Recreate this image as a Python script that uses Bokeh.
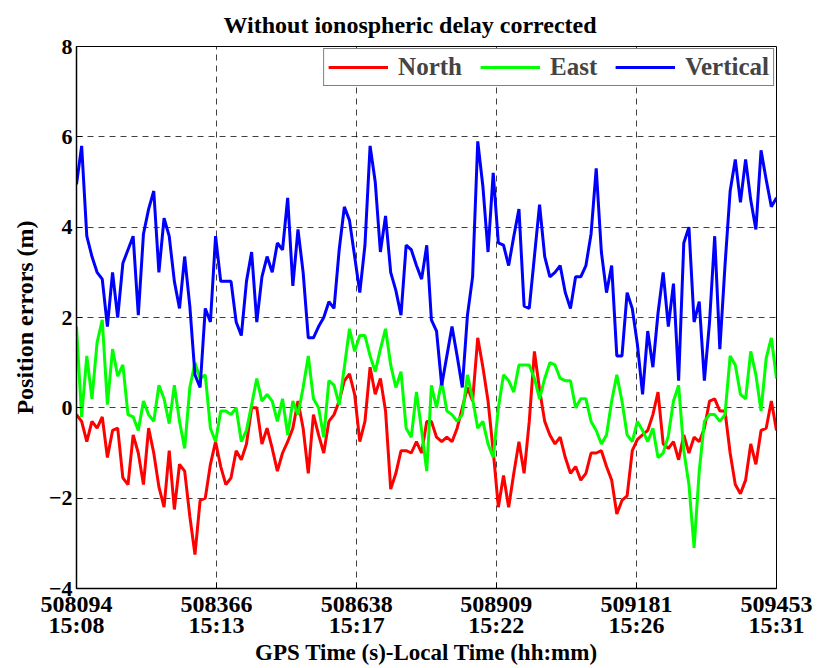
from bokeh.plotting import figure
from bokeh.models import FixedTicker, Range1d, Legend, LegendItem, LinearAxis
from bokeh.embed import file_html
from bokeh.resources import INLINE

# GPS time ticks and local time labels
x_ticks = [508094, 508366, 508638, 508909, 509181, 509453]
gps_labels = ["508094", "508366", "508638", "508909", "509181", "509453"]
local_labels = ["15:08", "15:13", "15:17", "15:22", "15:26", "15:31"]
y_ticks = [-4, -2, 0, 2, 4, 6, 8]

# sample epochs (s), ~10 s spacing over the session
n_pts = 137
times = [508094 + round(i * 1359 / (n_pts - 1)) for i in range(n_pts)]

north = [
    -0.15, -0.3, -0.75, -0.3, -0.45, -0.2, -1.1, -0.5, -0.45, -1.55,
    -1.7, -0.6, -1.0, -1.7, -0.45, -1.0, -1.75, -2.2, -0.95, -2.25,
    -1.25, -1.4, -2.4,
    -3.25, -2.05, -2.0, -1.25, -0.75, -1.3, -1.7, -1.55, -0.95, -1.15,
    -0.8, 0.0, 0.0, -0.8, -0.45, -0.9, -1.4, -1.0, -0.75, -0.45,
    0.15, -0.45,
    -1.45, -0.15, -0.6, -1.0, -0.3, -0.15, 0.15, 0.6, 0.75, 0.3,
    -0.75, -0.3, 0.9, 0.3, 0.65, -0.07, -1.8, -1.45, -0.95, -0.95,
    -1.0, -0.75, -1.0,
    -0.3, -0.3, -0.65, -0.75, -0.65, -0.75, -0.45, 0.0, 0.45, 0.15,
    1.55, 0.9, 0.15, -0.95, -2.2, -1.5, -2.2, -1.45, -0.75, -1.45,
    -0.3, 1.25,
    0.4, -0.3, -0.6, -0.8, -0.65, -1.1, -1.45, -1.3, -1.6, -1.45,
    -1.0, -1.0, -0.95, -1.3, -1.6, -2.35, -2.05, -1.95, -0.95, -0.7,
    -0.6, -0.5, -0.15,
    0.35, -0.8, -0.9, -0.75, -1.15, -0.6, -1.0, -0.65, -0.75, -0.45,
    0.15, 0.2, -0.07, -0.07, -1.0, -1.7, -1.9, -1.6, -0.8, -1.25,
    -0.5, -0.45, 0.15, -0.5,
]

east = [
    1.8, -0.2, 1.15, 0.2, 1.45, 1.95, 0.07, 1.3, 0.7, 0.95,
    -0.15, -0.2, -0.5, 0.15, -0.15, -0.3, 0.5, 0.2, -0.35, 0.5,
    -0.3, -0.9, 0.45,
    1.0, 0.65, 0.73, -0.45, -0.75, -0.07, -0.07, -0.15, 0.0, -0.75,
    -0.5, 0.07, 0.65, 0.15, 0.3, 0.15, -0.3, 0.2, -0.6, 0.15,
    -0.15, 0.45,
    1.15, 0.2, 0.0, -0.65, 0.6, 0.5, 0.07, 0.9, 1.75, 1.25,
    1.6, 1.6, 1.15, 0.8, 1.3, 1.75, 0.95, 0.45, 0.8, -0.45,
    -0.65, 0.35, -0.5,
    -1.4, 0.5, 0.0, 0.6, -0.07, -0.15, -0.3, -0.15, 0.73, 0.2,
    -0.45, -0.3, -0.8, -1.1, 0.0, 0.73, 0.6, 0.35, 0.95, 0.95,
    0.95, 0.65,
    0.2, 0.65, 1.0, 0.95, 0.65, 0.6, 0.6, 0.0, 0.2, 0.2,
    -0.3, -0.5, -0.8, -0.6, 0.15, 0.73, 0.15, -0.6, -0.75, -0.3,
    -0.5, -0.75, -0.45,
    -1.1, -1.0, -0.62, 0.15, 0.5, -0.95, -1.7, -3.1, -1.4, -0.3,
    -0.15, -0.15, -0.3, -0.15, 1.15, 0.95, 0.3, 0.2, 1.25, 0.73,
    -0.07, 1.1, 1.55, 0.65,
]

vertical = [
    4.95, 5.8, 3.8, 3.35, 3.0, 2.85, 1.8, 3.0, 2.0, 3.2,
    3.5, 3.8, 2.05, 3.85, 4.4, 4.8, 3.0, 4.2, 3.8, 2.8,
    2.2, 3.35, 2.25,
    0.73, 0.45, 2.2, 1.9, 3.8, 2.8, 2.8, 2.8, 1.9, 1.6,
    2.8, 3.45, 1.9, 2.9, 3.35, 3.0, 3.65, 3.5, 4.65, 2.7,
    3.95, 3.0,
    1.55, 1.55, 1.8, 2.0, 2.35, 2.2, 3.5, 4.45, 4.15, 3.35,
    2.55, 3.6, 5.8, 5.0, 3.45, 4.25, 3.0, 2.6, 2.05, 3.6,
    3.5, 3.15, 2.85,
    3.6, 1.95, 1.7, 0.5, 1.15, 1.8, 1.15, 0.45, 2.05, 2.9,
    5.9, 4.9, 3.45, 5.2, 3.65, 3.6, 3.15, 3.8, 4.4, 2.25,
    2.2, 3.35,
    4.5, 3.35, 2.9, 3.0, 3.15, 2.55, 2.2, 2.9, 2.9, 3.15,
    3.85, 5.3, 3.45, 2.55, 3.15, 1.15, 1.15, 2.55, 2.2, 1.4,
    0.3, 1.7, 0.9,
    2.1, 3.0, 1.8, 2.75, 0.6, 3.65, 4.0, 1.9, 2.35, 0.6,
    1.9, 3.8, 1.3, 3.15, 4.8, 5.5, 4.55, 5.5, 4.6, 3.95,
    5.7, 5.05, 4.45, 4.65,
]

FONT = "Liberation Serif"

p = figure(
    width=817, height=668, output_backend="svg", toolbar_location=None,
    x_range=Range1d(508094, 509453), y_range=Range1d(-4, 8),
    min_border_left=76, min_border_right=41, min_border_top=45, min_border_bottom=80,
)
p.background_fill_color = "white"
p.border_fill_color = "white"
p.outline_line_color = "black"
p.outline_line_width = 1

p.title.text = "Without ionospheric delay corrected"
p.title.align = "left"
p.title.offset = 147
p.title.standoff = 18
p.title.text_font = FONT
p.title.text_font_style = "bold"
p.title.text_font_size = "24px"
p.title.text_color = "black"

r_n = p.line(times, north, line_color="#FF0000", line_width=3)
r_e = p.line(times, east, line_color="#00FF00", line_width=3)
r_v = p.line(times, vertical, line_color="#0000FF", line_width=3)

legend = Legend(items=[
    LegendItem(label="North", renderers=[r_n]),
    LegendItem(label="East", renderers=[r_e]),
    LegendItem(label="Vertical", renderers=[r_v]),
], orientation="horizontal", location="top_right")
legend.label_text_font = FONT
legend.label_text_font_style = "bold"
legend.label_text_font_size = "25px"
legend.glyph_width = 60
legend.glyph_height = 24
legend.label_standoff = 10
legend.spacing = 18
legend.padding = 4
legend.margin = 2
legend.border_line_color = "black"
legend.border_line_width = 1
legend.background_fill_alpha = 1
p.add_layout(legend)

# first x axis: GPS seconds
xa = p.xaxis[0]
xa.ticker = FixedTicker(ticks=x_ticks)
xa.major_label_overrides = {t: lab for t, lab in zip(x_ticks, gps_labels)}
xa.major_label_standoff = 8

# second x axis: local time + axis title
xb = LinearAxis(ticker=FixedTicker(ticks=x_ticks))
xb.major_label_overrides = {t: lab for t, lab in zip(x_ticks, local_labels)}
xb.axis_line_color = None
xb.major_tick_line_color = None
xb.minor_tick_line_color = None
xb.major_tick_in = 0
xb.major_tick_out = 0
xb.major_label_standoff = -3
xb.axis_label = "GPS Time (s)-Local Time (hh:mm)"
p.add_layout(xb, "below")

p.yaxis.ticker = FixedTicker(ticks=y_ticks)
p.yaxis.axis_label = "Position errors (m)"

for ax in (xa, xb, p.yaxis[0]):
    ax.major_label_text_font = FONT
    ax.major_label_text_font_style = "bold"
    ax.major_label_text_font_size = "24px"
    ax.major_label_text_color = "black"
    ax.axis_label_text_font = FONT
    ax.axis_label_text_font_style = "bold"
    ax.axis_label_text_font_size = "23px"
    ax.axis_label_text_color = "black"
    ax.axis_label_standoff = -1

for ax in (xa, p.yaxis[0]):
    ax.major_tick_in = 6
    ax.major_tick_out = 0
    ax.minor_tick_line_color = None
    ax.axis_line_color = "black"
    ax.axis_line_width = 1.5
    ax.major_tick_line_color = "black"

p.yaxis.major_label_text_font_size = "22px"
p.yaxis.major_label_standoff = 4
p.yaxis.axis_label_text_font_size = "24px"
p.yaxis.axis_label_standoff = 8

p.grid.grid_line_color = "black"
p.grid.grid_line_alpha = 0.75
p.grid.grid_line_dash = "6 5"
p.grid.grid_line_width = 1

open("out.html", "w").write(file_html(p, INLINE))
